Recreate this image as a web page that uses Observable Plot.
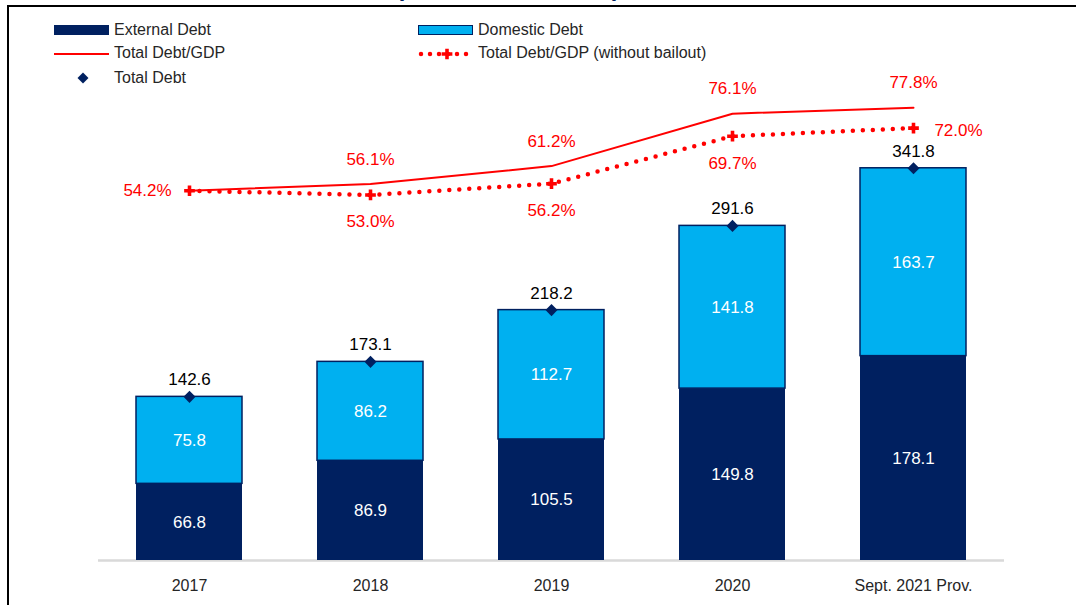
<!DOCTYPE html>
<html>
<head>
<meta charset="utf-8">
<script src="https://cdn.jsdelivr.net/npm/d3@7"></script>
<script src="https://cdn.jsdelivr.net/npm/@observablehq/plot@0.6"></script>
<style>
  html, body { margin: 0; padding: 0; background: #fff; }
  #wrap { position: relative; width: 1076px; height: 605px; overflow: hidden; font-family: "Liberation Sans", Arial, sans-serif; }
  #frame { position: absolute; left: 7px; top: 5px; width: 1200px; height: 800px; border-left: 2px solid #000; border-top: 2px solid #000; }
  #title { position: absolute; left: 380px; width: 256px; top: -24px; line-height: 24px; font-size: 24px; font-weight: bold; color: #002060; text-align: center; white-space: nowrap; }
  #chart { position: absolute; left: 0; top: 0; }
  .lg { position: absolute; font-size: 16px; color: #262626; line-height: 18px; white-space: nowrap; }
  .sw { position: absolute; box-sizing: border-box; }
  .lgsvg { position: absolute; overflow: visible; }
</style>
</head>
<body>
<div id="wrap">
  <div id="title">(GH¢ bn, % of GDP)</div>
  <div id="frame"></div>
  <div id="chart"></div>
  <div id="legend"></div>
</div>
<script>
// ---- data ----
const years = ["2017", "2018", "2019", "2020", "Sept. 2021 Prov."];
const externalDebt = [66.8, 86.9, 105.5, 149.8, 178.1];
const domesticDebt = [75.8, 86.2, 112.7, 141.8, 163.7];
const totalDebt = [142.6, 173.1, 218.2, 291.6, 341.8];
const debtToGdp = [54.2, 56.1, 61.2, 76.1, 77.8];
const debtToGdpNoBailout = [54.2, 53.0, 56.2, 69.7, 72.0];
const seriesNames = ["External Debt", "Domestic Debt", "Total Debt/GDP", "Total Debt/GDP (without bailout)", "Total Debt"];

// colours
const NAVY = "#002060", CYAN = "#00B0F0", RED = "#FF0000";

// secondary (percent) axis expressed in primary-axis units
const pctAxis = { offset: 156.0, perPct: 3.067 };
const toPrimary = p => pctAxis.offset + pctAxis.perPct * p;

const idx = years.map((_, i) => i);
const fmt = v => v.toFixed(1);
const pct = v => v.toFixed(1) + "%";

const chart = Plot.plot({
  width: 1076,
  height: 605,
  marginLeft: 98,
  marginRight: 72,
  marginTop: 101,
  marginBottom: 45,
  style: { fontFamily: "'Liberation Sans', Arial, sans-serif", fontSize: "16px", background: "transparent", overflow: "visible" },
  x: { domain: years, paddingInner: 0.414, paddingOuter: 0.207, axis: null },
  y: { domain: [0, 400], axis: null },
  marks: [
    Plot.ruleY([0], { stroke: "#D9D9D9", strokeWidth: 2.5 }),
    Plot.barY(idx, { x: i => years[i], y1: 0, y2: i => externalDebt[i], fill: NAVY }),
    Plot.barY(idx, { x: i => years[i], y1: i => externalDebt[i], y2: i => totalDebt[i], fill: CYAN, stroke: NAVY, strokeWidth: 1.5 }),
    Plot.text(idx, { x: i => years[i], y: i => externalDebt[i] / 2, text: i => fmt(externalDebt[i]), fill: "#fff", fontSize: 17 }),
    Plot.text(idx, { x: i => years[i], y: i => externalDebt[i] + domesticDebt[i] / 2, text: i => fmt(domesticDebt[i]), fill: "#fff", fontSize: 17 }),
    Plot.text(idx, { x: i => years[i], y: i => totalDebt[i], text: i => fmt(totalDebt[i]), fill: "#000", fontSize: 17, dy: -17 }),
    Plot.dot(idx, { x: i => years[i], y: i => totalDebt[i], symbol: "square", rotate: 45, r: 4.8, fill: NAVY }),
    // Total debt / GDP
    Plot.line(idx, { x: i => years[i], y: i => toPrimary(debtToGdp[i]), stroke: RED, strokeWidth: 2 }),
    // without bailout (dotted)
    Plot.line(idx, { x: i => years[i], y: i => toPrimary(debtToGdpNoBailout[i]), stroke: RED, strokeWidth: 4.5, strokeDasharray: "0 10", strokeLinecap: "round" }),
    Plot.dot(idx, { x: i => years[i], y: i => toPrimary(debtToGdpNoBailout[i]), symbol: "cross", r: 4.5, fill: RED }),
    // percentage labels
    Plot.text([0], { x: i => years[i], y: i => toPrimary(debtToGdp[i]), text: i => pct(debtToGdp[i]), fill: RED, fontSize: 17, dx: -42 }),
    Plot.text([1, 2, 3, 4], { x: i => years[i], y: i => toPrimary(debtToGdp[i]), text: i => pct(debtToGdp[i]), fill: RED, fontSize: 17, dy: -25 }),
    Plot.text([1, 2, 3], { x: i => years[i], y: i => toPrimary(debtToGdpNoBailout[i]), text: i => pct(debtToGdpNoBailout[i]), fill: RED, fontSize: 17, dy: 27 }),
    Plot.text([4], { x: i => years[i], y: i => toPrimary(debtToGdpNoBailout[i]), text: i => pct(debtToGdpNoBailout[i]), fill: RED, fontSize: 17, dx: 45, dy: 2 }),
    Plot.axisX({ tickSize: 0, tickPadding: 19, fontSize: 16, fill: "#262626", label: null })
  ]
});
document.getElementById("chart").appendChild(chart);

// ---- legend ----
const legend = document.getElementById("legend");
function add(html) { legend.insertAdjacentHTML("beforeend", html); }
add(`<div class="sw" style="left:54px;top:25px;width:55px;height:10px;background:${NAVY}"></div>`);
add(`<div class="lg" style="left:114px;top:21px">${seriesNames[0]}</div>`);
add(`<div class="sw" style="left:418px;top:25px;width:55px;height:10px;background:${CYAN};border:1.5px solid ${NAVY}"></div>`);
add(`<div class="lg" style="left:478px;top:21px">${seriesNames[1]}</div>`);
add(`<div class="sw" style="left:54px;top:53px;width:55px;height:2px;background:${RED}"></div>`);
add(`<div class="lg" style="left:114px;top:44px">${seriesNames[2]}</div>`);
add(`<svg class="lgsvg" style="left:418px;top:44px" width="58" height="20">
  <line x1="3" y1="10" x2="55" y2="10" stroke="${RED}" stroke-width="4.5" stroke-dasharray="0 9" stroke-linecap="round"/>
  <path transform="translate(29,10)" d="${d3.symbol(d3.symbolCross, 64)()}" fill="${RED}"/>
</svg>`);
add(`<div class="lg" style="left:478px;top:44px">${seriesNames[3]}</div>`);
add(`<svg class="lgsvg" style="left:75px;top:70px" width="16" height="16">
  <path transform="translate(8,8) rotate(45)" d="${d3.symbol(d3.symbolSquare, 60)()}" fill="${NAVY}"/>
</svg>`);
add(`<div class="lg" style="left:114px;top:69px">${seriesNames[4]}</div>`);
</script>
</body>
</html>
